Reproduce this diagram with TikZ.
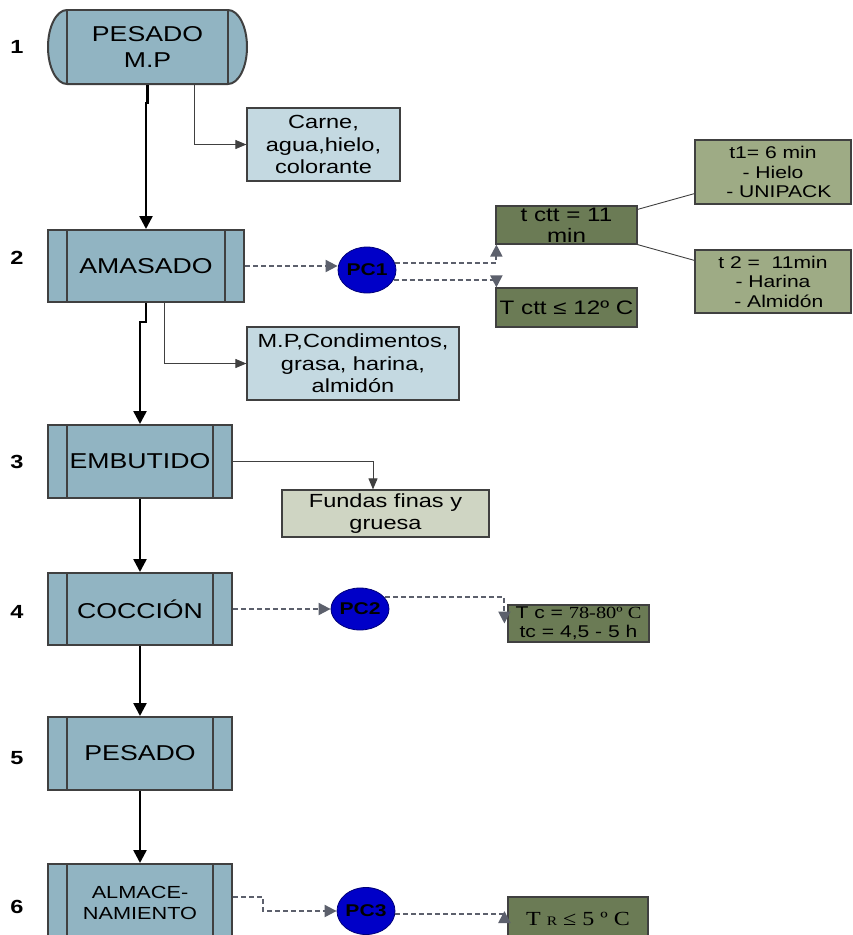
\documentclass[tikz,border=0pt]{standalone}
\usepackage{fontspec}
\setmainfont{Liberation Sans}[FakeStretch=1.24]
\newfontfamily\tms{Liberation Serif}[FakeStretch=1.2]
\usetikzlibrary{arrows.meta,shapes.geometric}
\definecolor{procfill}{RGB}{145,180,194}
\definecolor{edge}{RGB}{64,64,64}
\definecolor{paleblue}{RGB}{196,217,225}
\definecolor{palegray}{RGB}{207,213,195}
\definecolor{darkolive}{RGB}{107,123,85}
\definecolor{midolive}{RGB}{158,171,133}
\definecolor{pcblue}{RGB}{0,0,200}
\definecolor{ctrlgray}{RGB}{92,96,108}

\begin{document}
\begin{tikzpicture}[x=1pt,y=-1pt,
  box/.style={draw=edge,line width=2pt,fill=procfill,inner sep=0pt,align=center,
    minimum height=72pt,font=\fontsize{21.5}{26}\selectfont},
  proc/.style={box,path picture={
    \draw[edge,line width=2pt]
      ([xshift=19pt]path picture bounding box.north west) -- ([xshift=19pt]path picture bounding box.south west)
      ([xshift=-19pt]path picture bounding box.north east) -- ([xshift=-19pt]path picture bounding box.south east);}},
  note/.style={draw=edge,line width=1.2pt,inner sep=0pt,align=center,font=\fontsize{19}{22.5}\selectfont},
  pc/.style={ellipse,draw=pcblue!60!black,line width=0.8pt,fill=pcblue,inner sep=0pt,
    minimum width=58pt,font=\bfseries\fontsize{17}{20}\selectfont},
  stepnum/.style={font=\bfseries\fontsize{19}{20}\selectfont},
  flow/.style={line width=2.5pt,-{Triangle[width=13pt,length=13pt]}},
  side/.style={edge,line width=1pt,-{Triangle[width=9pt,length=11pt]}},
  ctrl/.style={ctrlgray,line width=2pt,dash pattern=on 5pt off 3pt,-{Triangle[width=12pt,length=12pt]}},
  link/.style={edge,line width=0.9pt}]

\useasboundingbox (0,0) rectangle (853,935);

\foreach \i/\y in {1/47,2/258,3/462,4/612,5/758,6/907}
  \node[stepnum] (s\i) at (17,\y) {\i};

\draw[edge,line width=2pt,fill=procfill] (228,10) arc[start angle=90,end angle=-90,x radius=19pt,y radius=37pt]
 -- (67,84) arc[start angle=270,end angle=90,x radius=19pt,y radius=37pt] -- cycle;
\node[box,minimum width=161pt,minimum height=74pt] (n1) at (147.5,47) {PESADO\\M.P};
\node[proc,minimum width=196pt] (n2) at (146,266) {AMASADO};
\node[proc,minimum width=184pt,minimum height=73pt] (n3) at (140,461.5) {EMBUTIDO};
\node[proc,minimum width=184pt] (n4) at (140,609) {COCCIÓN};
\node[proc,minimum width=184pt,minimum height=73pt] (n5) at (140,753.5) {PESADO};
\node[proc,minimum width=184pt,minimum height=78pt,font=\fontsize{17.5}{20.5}\selectfont,text depth=0pt] (n6) at (140,903) {ALMACE-\\NAMIENTO};

\node[note,fill=paleblue,minimum width=153pt,minimum height=73pt] (carne) at (323.5,144.5) {Carne,\\agua,hielo,\\colorante};
\node[note,fill=paleblue,minimum width=212pt,minimum height=73pt] (mp) at (353,363.5) {M.P,Condimentos,\\grasa, harina,\\almidón};
\node[note,fill=palegray,minimum width=207pt,minimum height=47pt] (fundas) at (385.5,513.5) {Fundas finas y\\gruesa};

\node[pc,minimum height=46pt] (pc1) at (367,270) {\makebox[0pt]{PC1}};
\node[pc,minimum height=42pt] (pc2) at (360,609) {\makebox[0pt]{PC2}};
\node[pc,minimum height=47pt] (pc3) at (366,911) {\makebox[0pt]{PC3}};

\node[note,fill=darkolive,minimum width=141pt,minimum height=38pt,font=\fontsize{19.5}{21}\selectfont] (tctt) at (566.5,225) {t ctt = 11\\min};
\node[note,fill=darkolive,minimum width=141pt,minimum height=39pt,font=\fontsize{19.5}{21}\selectfont] (tcttb) at (566.5,307.5) {T ctt ≤ 12º C};
\node[note,fill=midolive,minimum width=156pt,minimum height=64pt,font=\fontsize{17}{19.5}\selectfont] (tone) at (773,172) {t1= 6 min\\- Hielo\\\ \ - UNIPACK};
\node[note,fill=midolive,minimum width=156pt,minimum height=63pt,font=\fontsize{17}{19.5}\selectfont] (ttwo) at (773,281.5) {t 2 = \ 11min\\- Harina\\\ \ - Almidón};
\node[note,fill=darkolive,minimum width=141pt,minimum height=37pt,font=\fontsize{17}{19}\selectfont] (tc) at (578.5,623.5) {T c = {\tms 78-80º C}\\tc = 4,5 - 5 h};
\node[note,fill=darkolive,minimum width=140pt,minimum height=44pt,font=\tms\fontsize{20}{20}\selectfont] (tr) at (578,919) {T {\fontsize{13}{14}\selectfont R} ≤ 5 º C};

\draw[flow] (n1.south) -- ++(0,18) -| (n2.north);
\draw[flow] (n2.south) -- ++(0,19) -| (n3.north);
\foreach \a/\b in {3/4,4/5,5/6}
  \draw[flow] (n\a.south) -- (n\b.north);

\draw[side] ([xshift=46.5pt]n1.south) |- (carne.west);
\draw[side] ([xshift=18pt]n2.south) |- (mp.west);
\draw[side] (n3.east) -| ([xshift=-12.5pt]fundas.north);

\draw[ctrl] (n2.east) -- (n2.east -| pc1.west);
\draw[ctrl] (pc1.15) -| ([xshift=1pt]tctt.south west);
\draw[ctrl] (pc1.-20) -| ([xshift=1pt]tcttb.north west);
\draw[link] ([yshift=-4pt]tctt.north east) -- ([yshift=11pt]tone.south west);
\draw[link] (tctt.south east) -- ([yshift=-11pt]ttwo.north west);
\draw[ctrl] (n4.east) -- (pc2.west);
\draw[ctrl] (pc2.25) -| ([xshift=-3pt]tc.west);
\draw[ctrl] ([yshift=6pt]n6.east) -- ++(30,0) |- (pc3.west);
\draw[ctrl] (pc3.-5) -| ([xshift=-3pt,yshift=8pt]tr.west);
\end{tikzpicture}
\end{document}
